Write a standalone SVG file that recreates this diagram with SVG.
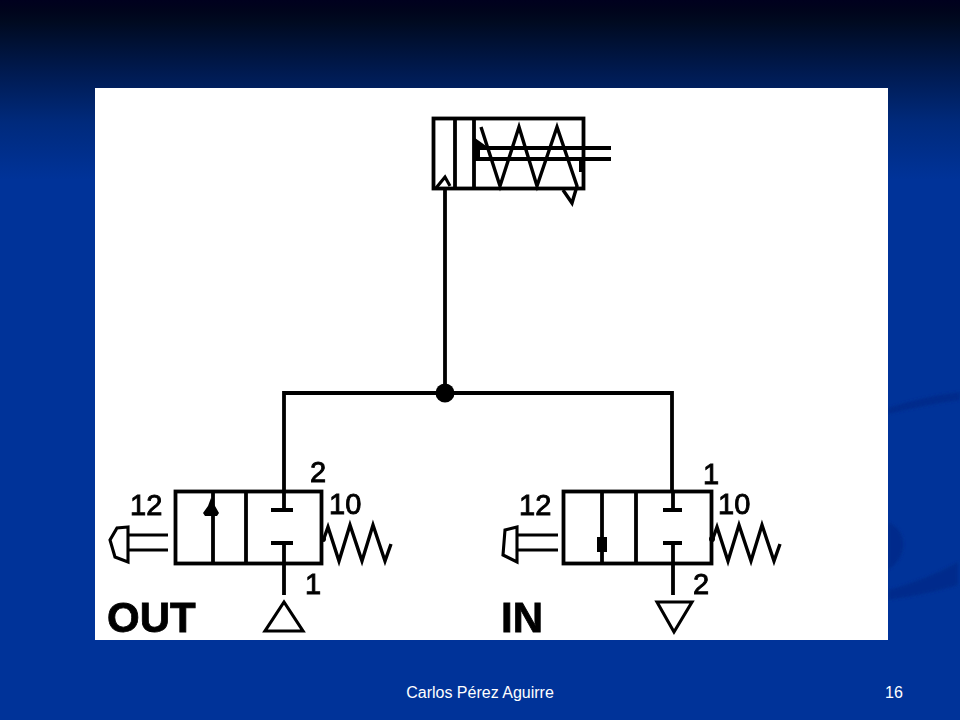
<svg xmlns="http://www.w3.org/2000/svg" width="960" height="720" viewBox="0 0 960 720">
<style>
.l{fill:none;stroke:#000;stroke-width:3.8;stroke-linejoin:miter}
.t{stroke-width:3.1}
.s{stroke-width:3.4}
.n{font-family:"Liberation Sans",Arial,sans-serif;font-size:29px;fill:#000;stroke:#000;stroke-width:.9}
.b{font-family:"Liberation Sans",Arial,sans-serif;font-size:42px;font-weight:bold;fill:#000;stroke:#000;stroke-width:.8}
.f{font-family:"Liberation Sans",Arial,sans-serif;font-size:16px;fill:#fff}
</style>
<defs>
<linearGradient id="bg" x1="0" y1="0" x2="0" y2="1">
<stop offset="0" stop-color="#00001e"/><stop offset=".014" stop-color="#00041c"/><stop offset=".03" stop-color="#000a20"/><stop offset=".1" stop-color="#001a50"/><stop offset=".17" stop-color="#002a7c"/><stop offset=".25" stop-color="#003399"/><stop offset="1" stop-color="#003399"/>
</linearGradient>
<filter id="blur" x="-5%" y="-5%" width="110%" height="110%"><feGaussianBlur stdDeviation=".75"/></filter>
<filter id="soft" x="-5%" y="-5%" width="110%" height="110%"><feGaussianBlur stdDeviation="1.5"/></filter>
<g id="spring"><path class="l s" d="M0 -2L5 -16L16 18L27 -18L39 18L50 -18L62 18L68 1"/><circle cx="0" cy="-4" r="3" fill="#000"/></g>
</defs>
<rect width="960" height="720" fill="url(#bg)"/>
<g fill="#002c8c" filter="url(#soft)">
<path d="M888 408Q925 396 960 392V400Q925 405 888 414Z"/>
<path d="M888 522Q906 530 903 550Q900 562 888 570Z"/>
<path d="M888 590Q925 580 958 562V585Q925 595 888 600Z"/>
</g>
<rect x="95" y="88" width="793" height="552" fill="#fff"/>
<g filter="url(#blur)">
<g id="connectors">
<path class="l" d="M445 188V393M284 491V393H672V491"/>
<circle cx="445" cy="393" r="9.500" fill="#000"/>
</g>
<g id="cylinder">
<rect class="l" x="433.500" y="118.500" width="150" height="70"/>
<path class="l" d="M455 118V188M474 118V188M474 148H611M474 159H611"/>
<path class="l t" d="M436 188L445 177L450 186"/>
<path class="l s" d="M481 127L500 186L519 127L537 186L557 127L577 186L572 203L563 190"/>
<path fill="#000" d="M475 138L489 148H480V158H475Z"/>
<path fill="#000" d="M579 160H584V172H579Z"/>
</g>
<g id="valve-out">
<rect class="l" x="175.500" y="491.500" width="146" height="72"/>
<path class="l" d="M246 491V564M213 491V564M284 510V492M271 510H293M284 543V595M271 543H293"/>
<path fill="#000" d="M211 498L215 506L219 513L217 516H205L203 513L208 506Z"/>
<path class="l t" d="M168 535H127M168 550H127"/>
<path class="l t" d="M128 527L117 528L110 540L115 557L128 562Z"/>
<use href="#spring" x="323" y="543"/>
<path class="l t" d="M265 631H303L284 602Z"/>
<text class="n" x="130" y="515">12</text><text class="n" x="329" y="514">10</text>
<text class="n" x="310" y="482">2</text><text class="n" x="305" y="594">1</text>
<text class="b" x="107" y="632">OUT</text>
</g>
<g id="valve-in">
<rect class="l" x="563.500" y="491.500" width="148" height="72"/>
<path class="l" d="M636 491V564M602 491V564M673 510V492M663 510H682M673 543V595M663 543H682"/>
<rect x="597" y="537" width="10" height="15" fill="#000"/>
<path class="l t" d="M558 535H516M558 550H516"/>
<path class="l t" d="M517 527L505 530L503 555L517 562Z"/>
<use href="#spring" x="712" y="543"/>
<path class="l t" d="M657 602H692L674 632Z"/>
<text class="n" x="519" y="515">12</text><text class="n" x="718" y="514">10</text>
<text class="n" x="703" y="484">1</text><text class="n" x="693" y="594">2</text>
<text class="b" x="501" y="632">IN</text>
</g>
</g>
<text class="f" x="480" y="698" text-anchor="middle">Carlos Pérez Aguirre</text>
<text class="f" x="894" y="698" text-anchor="middle">16</text>
</svg>
